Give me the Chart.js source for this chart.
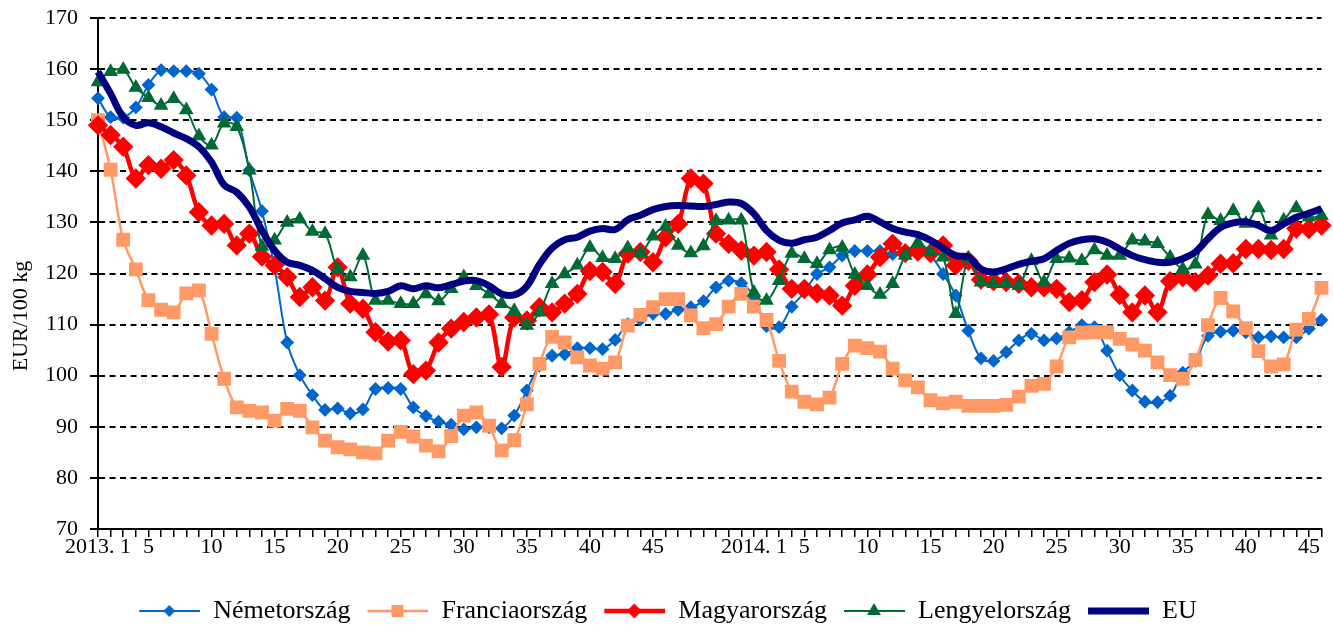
<!DOCTYPE html>
<html>
<head>
<meta charset="utf-8">
<script src="https://cdn.jsdelivr.net/npm/chart.js@4.4.1/dist/chart.umd.min.js"></script>
<style>
  html, body { margin: 0; padding: 0; background: #fff; }
  #wrap { width: 1333px; height: 634px; }
</style>
</head>
<body>
<div id="wrap"><canvas id="myChart"></canvas></div>
<script>
// weeks: 2013 week 1-52, 2014 week 1-46
const years = [2013, 2014]
const weeksPerYear = [52, 46]
const labeledWeeks = [1, 5, 10, 15, 20, 25, 30, 35, 40, 45]

const categories = []
years.forEach((y, k) => {
  for (let w = 1; w <= weeksPerYear[k]; w++) categories.push(w === 1 ? y + ". 1" : String(w))
})

// EUR/100 kg
const nemetorszag = [
  154.3, 150.6, 150.5, 152.5, 156.9, 159.8, 159.6, 159.6, 159.1, 156.0,
  150.6, 150.5, 140.2, 132.2, 121.0, 106.5, 100.1, 96.2, 93.3, 93.6,
  92.6, 93.4, 97.4, 97.6, 97.4, 93.8, 92.1, 91.0, 90.4, 89.5,
  89.9, 89.9, 89.7, 92.2, 97.1, 102.0, 103.9, 104.2, 105.4, 105.4,
  105.2, 107.0, 110.1, 111.0, 112.1, 112.1, 112.9, 113.4, 114.6, 117.3,
  118.6, 118.1, 115.5, 109.7, 109.5, 113.5, 116.3, 119.9, 121.2, 123.5,
  124.4, 124.4, 124.4, 123.8, 124.0, 124.0, 123.5, 119.9, 115.7, 108.8,
  103.4, 102.9, 104.6, 106.9, 108.2, 106.9, 107.3, 108.5, 109.9, 109.5,
  104.9, 100.1, 97.1, 94.9, 94.8, 96.1, 100.6, 102.9, 107.8, 108.6,
  108.8, 108.5, 107.5, 107.7, 107.5, 107.5, 109.2, 110.9
]
const franciaorszag = [
  150.0, 140.3, 126.6, 120.8, 114.8, 112.9, 112.4, 116.1, 116.7, 108.2,
  99.4, 93.8, 93.1, 92.8, 91.2, 93.5, 93.1, 89.9, 87.3, 86.0,
  85.6, 85.0, 84.8, 87.3, 89.0, 88.1, 86.3, 85.2, 88.2, 92.2,
  92.8, 90.2, 85.4, 87.4, 94.4, 102.3, 107.6, 106.5, 103.6, 102.0,
  101.4, 102.6, 109.8, 111.9, 113.4, 115.0, 115.0, 111.8, 109.3, 110.1,
  113.5, 116.0, 113.5, 110.9, 102.9, 96.9, 94.9, 94.4, 95.7, 102.3,
  105.9, 105.4, 104.7, 101.4, 99.1, 97.7, 95.2, 94.6, 94.9, 94.1,
  94.1, 94.1, 94.3, 95.9, 98.0, 98.4, 101.8, 107.5, 108.4, 108.5,
  108.5, 107.2, 106.1, 104.9, 102.6, 100.1, 99.4, 103.1, 109.9, 115.2,
  112.6, 109.3, 104.8, 101.8, 102.2, 109.0, 111.1, 117.2
]
const magyarorszag = [
  149.0, 147.1, 144.8, 138.6, 141.2, 140.5, 142.2, 139.2, 132.0, 129.4,
  129.7, 125.5, 127.8, 123.3, 121.6, 119.3, 115.4, 117.3, 114.7, 121.2,
  114.1, 113.1, 108.5, 106.7, 106.9, 100.3, 101.0, 106.5, 109.2, 110.5,
  111.4, 112.0, 101.7, 111.4, 110.8, 113.4, 112.4, 114.1, 116.0, 120.5,
  120.3, 118.0, 123.9, 124.2, 122.2, 127.1, 129.7, 138.6, 137.6, 127.8,
  125.8, 124.5, 123.5, 124.2, 120.8, 117.0, 117.0, 116.1, 115.7, 113.7,
  117.6, 119.8, 123.2, 125.8, 124.0, 124.3, 124.0, 125.5, 121.6, 122.5,
  118.8, 118.5, 118.3, 118.0, 117.3, 117.3, 117.0, 114.4, 114.8, 118.3,
  119.8, 115.8, 112.4, 115.7, 112.4, 118.5, 119.3, 118.3, 119.6, 121.9,
  122.0, 124.8, 124.8, 124.6, 124.8, 128.8, 128.7, 129.4
]
const lengyelorszag = [
  157.5, 159.5, 159.9, 156.4, 154.4, 152.9, 154.2, 152.0, 146.9, 145.1,
  149.4, 148.7, 140.2, 125.3, 126.5, 130.0, 130.6, 128.2, 127.8, 120.9,
  119.3, 123.5, 114.7, 114.7, 114.1, 114.1, 116.0, 114.6, 117.0, 119.3,
  117.6, 116.0, 114.1, 112.7, 109.8, 112.4, 118.0, 119.9, 121.6, 125.1,
  123.1, 122.9, 125.0, 124.0, 127.3, 129.2, 125.5, 124.0, 125.4, 130.3,
  130.4, 130.4, 116.3, 114.7, 118.6, 123.9, 122.9, 121.9, 124.6, 125.1,
  119.8, 117.6, 115.9, 118.0, 123.5, 126.0, 124.2, 123.2, 112.1, 123.0,
  118.3, 118.0, 118.0, 117.6, 122.5, 118.3, 122.9, 123.0, 122.5, 124.6,
  123.5, 123.5, 126.5, 126.3, 125.8, 123.2, 120.9, 121.8, 131.5, 130.3,
  132.3, 129.8, 132.8, 127.5, 130.4, 132.8, 131.0, 131.3
]
const eu = [
  159.5, 155.2, 150.6, 149.0, 149.5, 148.7, 147.5, 146.4, 144.8, 141.8,
  137.3, 135.9, 133.0, 128.4, 124.5, 122.2, 121.6, 120.6, 119.0, 117.3,
  116.5, 116.3, 116.1, 116.5, 117.6, 117.0, 117.6, 117.2, 117.8, 118.5,
  118.6, 117.6, 116.0, 115.8, 117.5, 121.8, 125.0, 126.6, 127.1, 128.3,
  128.8, 128.6, 130.5, 131.4, 132.5, 133.1, 133.3, 133.2, 133.1, 133.5,
  134.0, 133.7, 131.7, 128.4, 126.5, 125.9, 126.6, 127.1, 128.4, 129.9,
  130.5, 131.2, 130.1, 128.8, 128.1, 127.6, 126.5, 125.0, 123.5, 123.2,
  120.9, 120.3, 120.9, 121.8, 122.4, 122.9, 124.5, 125.9, 126.6, 126.8,
  126.1, 124.8, 123.5, 122.7, 122.2, 122.2, 122.9, 124.2, 126.8, 129.0,
  129.9, 130.1, 129.4, 128.4, 129.7, 131.0, 131.8, 132.7
]

const serif = "'Liberation Serif', 'Times New Roman', serif"

// legend icon: short line with the marker in the middle (left margin = gap to previous item)
function legendIcon(color, lw, marker, r) {
  const c = document.createElement("canvas")
  c.width = 75
  c.height = 22
  const g = c.getContext("2d")
  const cx = 44
  g.strokeStyle = color
  g.lineWidth = lw
  g.beginPath()
  g.moveTo(14, 11)
  g.lineTo(75, 11)
  g.stroke()
  g.fillStyle = color
  g.beginPath()
  if (marker === "diamond") {
    g.moveTo(cx, 11 - r); g.lineTo(cx + r, 11); g.lineTo(cx, 11 + r); g.lineTo(cx - r, 11)
  } else if (marker === "square") {
    g.rect(cx - r, 11 - r, 2 * r, 2 * r)
  } else if (marker === "triangle") {
    g.moveTo(cx, 11 - r); g.lineTo(cx + r * 0.87, 11 + r * 0.5); g.lineTo(cx - r * 0.87, 11 + r * 0.5)
  }
  if (marker) g.fill()
  return c
}

const datasets = [
  {
    label: "Németország", data: nemetorszag, borderColor: "#0066CC", backgroundColor: "#0066CC",
    borderWidth: 2, pointStyle: "rectRot", pointRadius: 5.5, order: 5,
    icon: legendIcon("#0066CC", 2, "diamond", 6)
  },
  {
    label: "Franciaország", data: franciaorszag, borderColor: "#FF9966", backgroundColor: "#FF9966",
    borderWidth: 2.5, pointStyle: "rect", pointRadius: 8, order: 4,
    icon: legendIcon("#FF9966", 2.5, "square", 6)
  },
  {
    label: "Magyarország", data: magyarorszag, borderColor: "#FF0000", backgroundColor: "#FF0000",
    borderWidth: 4.5, pointStyle: "rectRot", pointRadius: 7, order: 3,
    icon: legendIcon("#FF0000", 4.5, "diamond", 7.5)
  },
  {
    label: "Lengyelország", data: lengyelorszag, borderColor: "#006B35", backgroundColor: "#006B35",
    borderWidth: 2, pointStyle: "triangle", pointRadius: 6.5, order: 2,
    icon: legendIcon("#006B35", 2, "triangle", 8)
  },
  {
    label: "EU", data: eu, borderColor: "#000080", backgroundColor: "#000080",
    borderWidth: 7, pointRadius: 0, order: 1,
    icon: legendIcon("#000080", 7, null, 0)
  },
]

// rotated y axis title drawn by hand so it can sit where the original has it
const yTitle = {
  id: "yTitle",
  afterDraw(chart) {
    const ctx = chart.ctx
    ctx.save()
    ctx.translate(21, 316)
    ctx.rotate(-Math.PI / 2)
    ctx.font = "22px " + serif
    ctx.fillStyle = "#000"
    ctx.textAlign = "center"
    ctx.textBaseline = "middle"
    ctx.fillText("EUR/100 kg", 0, 0)
    ctx.restore()
  },
}

const config = {
  type: "line",
  data: { labels: categories, datasets: datasets },
  options: {
    responsive: true,
    maintainAspectRatio: false,
    animation: false,
    layout: { padding: { top: 18, right: 11, left: 0, bottom: 0 } },
    elements: {
      line: { tension: 0.35, fill: false },
      point: { borderWidth: 1, hoverRadius: 6 },
    },
    scales: {
      x: {
        type: "category",
        offset: false,
        grid: { display: true, drawOnChartArea: false, drawTicks: true, tickLength: 8, color: "#000", lineWidth: 1.5 },
        border: { color: "#000", width: 2 },
        ticks: {
          autoSkip: false,
          maxRotation: 0,
          minRotation: 0,
          padding: -3,
          color: "#000",
          font: { family: serif, size: 22 },
          callback: function (value, index) {
            const lab = categories[index]
            const w = parseInt(lab.split(". ").pop(), 10)
            return labeledWeeks.includes(w) ? lab : ""
          },
        },
        afterFit: (scale) => { scale.height = 66; scale.paddingLeft = 0; scale.paddingRight = 0 },
      },
      y: {
        min: 70,
        max: 170,
        grid: { color: "#000", lineWidth: 2, tickLength: 8, drawTicks: true },
        border: { color: "#000", width: 2, dash: [6, 4.5] },
        ticks: {
          stepSize: 10,
          padding: 12,
          color: "#000",
          font: { family: serif, size: 22 },
        },
        afterFit: (scale) => { scale.width = 98; scale.paddingTop = 0; scale.paddingBottom = 0 },
      },
    },
    plugins: {
      legend: {
        position: "bottom",
        labels: {
          usePointStyle: true,
          pointStyleWidth: 75,
          padding: 3,
          color: "#000",
          font: { family: serif, size: 26 },
          sort: (a, b) => a.datasetIndex - b.datasetIndex,
          generateLabels: (chart) => chart.data.datasets.map((ds, i) => ({
            text: ds.label,
            fillStyle: ds.borderColor,
            strokeStyle: ds.borderColor,
            lineWidth: 0,
            pointStyle: ds.icon,
            hidden: !chart.isDatasetVisible(i),
            datasetIndex: i,
            fontColor: "#000",
          })),
        },
      },
      tooltip: { enabled: false },
    },
  },
  plugins: [yTitle],
}

const myChart = new Chart(document.getElementById("myChart"), config)
</script>
</body>
</html>
